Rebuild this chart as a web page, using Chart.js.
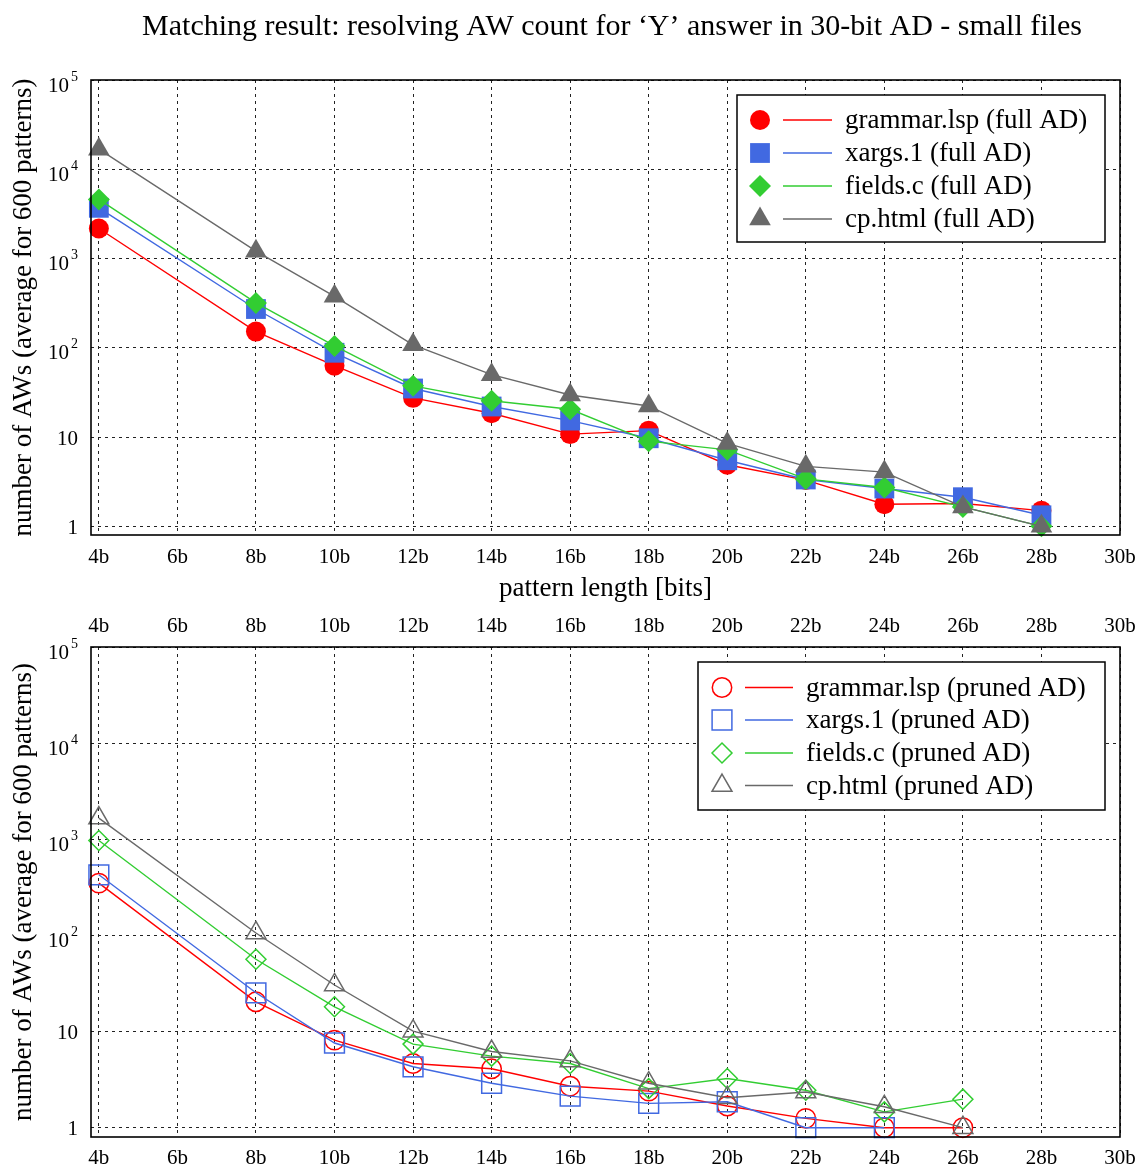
<!DOCTYPE html>
<html>
<head>
<meta charset="utf-8">
<title>Matching result: resolving AW count</title>
<script src="https://cdn.jsdelivr.net/npm/chart.js@4.4.1/dist/chart.umd.min.js"></script>
<style>
  html, body { margin: 0; padding: 0; background: #ffffff; }
  #page { position: relative; width: 1138px; height: 1169px; overflow: hidden; }
  #page canvas { position: absolute; left: 0; }
</style>
</head>
<body>
<div id="page">
  <canvas id="fullChart" width="1138" height="605" style="top:0;width:1138px;height:605px"></canvas>
  <canvas id="prunedChart" width="1138" height="564" style="top:605px;width:1138px;height:564px"></canvas>
</div>
<script>
const SERIF = '"Liberation Serif", "Times New Roman", serif';

// pattern lengths (bits) at which the measurements were taken
const bitLengths = [4, 8, 10, 12, 14, 16, 18, 20, 22, 24, 26, 28];
const xTickValues = [4, 6, 8, 10, 12, 14, 16, 18, 20, 22, 24, 26, 28, 30];
const yTickValues = [1, 10, 100, 1000, 10000, 100000];

const fileNames = ['grammar.lsp', 'xargs.1', 'fields.c', 'cp.html'];
const fileColors = ['#ff0000', '#4169e1', '#32cd32', '#696969'];

// average number of AWs, full AD
const fullGrammar = [2170, 152, 63, 27.5, 18.5, 10.8, 11.8, 4.9, 3.3, 1.77, 1.8, 1.5];
const fullXargs   = [3700, 272, 88, 35, 22, 15.3, 9.7, 5.5, 3.35, 2.65, 2.12, 1.33];
const fullFields  = [4600, 318, 105, 37.5, 25.5, 20.5, 9.0, 7.2, 3.4, 2.72, 1.65, 1.0];
const fullCp      = [16800, 1210, 377, 108, 50, 29.6, 22.3, 8.5, 4.7, 4.05, 1.65, 1.0];

// average number of AWs, pruned AD
const prunedGrammar = [350, 20.4, 8.15, 4.65, 4.1, 2.7, 2.4, 1.68, 1.25, 1.0, 1.0];
const prunedXargs   = [427, 25.3, 7.6, 4.3, 2.9, 2.13, 1.79, 1.86, 1.0, 1.0];
const prunedFields  = [970, 56.5, 18.1, 7.4, 5.55, 4.65, 2.55, 3.25, 2.45, 1.46, 1.98];
const prunedCp      = [1660, 106, 30.5, 10.1, 6.2, 4.95, 2.9, 2.05, 2.35, 1.65, 1.0];

const markerStyles = [
  { pointStyle: 'circle',   filled: 10,   hollow: 9.7 },
  { pointStyle: 'rect',     filled: 14,   hollow: 14 },
  { pointStyle: 'rectRot',  filled: 11,   hollow: 10 },
  { pointStyle: 'triangle', filled: 12.5, hollow: 11.5 }
];

const TICK_FONT = 21;
const TEXT_FONT = 27;

function buildDatasets(seriesList, suffix, filled) {
  return seriesList.map((values, i) => {
    const m = markerStyles[i];
    return {
      label: fileNames[i] + ' (' + suffix + ')',
      data: values.map((v, k) => ({ x: bitLengths[k], y: v })).filter(p => p.y != null),
      borderColor: fileColors[i],
      backgroundColor: fileColors[i],
      borderWidth: 1.4,
      pointStyle: m.pointStyle,
      pointRadius: filled ? m.filled : m.hollow,
      pointBackgroundColor: filled ? fileColors[i] : 'rgba(0,0,0,0)',
      pointBorderColor: fileColors[i],
      pointBorderWidth: filled ? 0 : 1.5,
      tension: 0,
      fill: false,
      clip: false,
      order: seriesList.length - i
    };
  });
}

// frame, y tick labels with exponents, axis titles and the boxed key
function makeDecor(cfg) {
  return {
    id: 'decor',
    afterDatasetsDraw(chart) {
      const ctx = chart.ctx;
      const area = chart.chartArea;
      ctx.save();

      ctx.strokeStyle = '#000';
      ctx.lineWidth = 1.6;
      ctx.strokeRect(area.left, area.top, area.right - area.left, area.bottom - area.top);

      const ys = chart.scales.y;
      ctx.fillStyle = '#000';
      ctx.textBaseline = 'middle';
      ctx.textAlign = 'right';
      yTickValues.forEach(v => {
        const y = ys.getPixelForValue(v);
        const exp = Math.round(Math.log10(v));
        if (exp < 2) {
          ctx.font = TICK_FONT + 'px ' + SERIF;
          ctx.fillText(String(v), cfg.labelRight, y + 2);
        } else {
          ctx.font = '14px ' + SERIF;
          const e = String(exp);
          const ew = ctx.measureText(e).width;
          ctx.fillText(e, cfg.labelRight, y - 3);
          ctx.font = TICK_FONT + 'px ' + SERIF;
          ctx.fillText('10', cfg.labelRight - ew - 2, y + 6);
        }
      });

      ctx.save();
      ctx.translate(24, (area.top + area.bottom) / 2);
      ctx.rotate(-Math.PI / 2);
      ctx.textAlign = 'center';
      ctx.font = TEXT_FONT + 'px ' + SERIF;
      ctx.fillText('number of AWs (average for 600 patterns)', 0, 0);
      ctx.restore();

      if (cfg.title) {
        ctx.textAlign = 'center';
        ctx.font = '30px ' + SERIF;
        ctx.fillText(cfg.title, 612, 27);
      }
      if (cfg.xTitle) {
        ctx.textAlign = 'center';
        ctx.font = TEXT_FONT + 'px ' + SERIF;
        ctx.fillText(cfg.xTitle, (area.left + area.right) / 2, cfg.xTitleY);
      }

      const L = cfg.legend;
      ctx.fillStyle = '#fff';
      ctx.fillRect(L.left, L.top, L.right - L.left, L.bottom - L.top);
      ctx.strokeStyle = '#000';
      ctx.lineWidth = 1.5;
      ctx.strokeRect(L.left, L.top, L.right - L.left, L.bottom - L.top);
      chart.data.datasets.forEach((ds, i) => {
        const y = L.rows[i];
        ctx.fillStyle = ds.pointBackgroundColor;
        ctx.strokeStyle = ds.pointBorderColor;
        ctx.lineWidth = ds.pointBorderWidth;
        Chart.helpers.drawPoint(ctx, {
          pointStyle: ds.pointStyle, radius: ds.pointRadius, rotation: 0, borderWidth: ds.pointBorderWidth
        }, L.markerX, y);
        ctx.strokeStyle = ds.borderColor;
        ctx.lineWidth = ds.borderWidth;
        ctx.beginPath();
        ctx.moveTo(L.lineX1, y);
        ctx.lineTo(L.lineX2, y);
        ctx.stroke();
        ctx.fillStyle = '#000';
        ctx.font = TEXT_FONT + 'px ' + SERIF;
        ctx.textAlign = 'left';
        ctx.textBaseline = 'middle';
        ctx.fillText(ds.label, L.textX, y + 1);
      });
      ctx.restore();
    }
  };
}

function xAxis(position, height, padding, showGrid) {
  return {
    type: 'linear', position: position, min: 3.8, max: 30,
    afterBuildTicks: s => { s.ticks = xTickValues.map(v => ({ value: v })); },
    afterFit: s => { s.height = height; s.paddingLeft = 0; s.paddingRight = 0; },
    grid: { display: showGrid, color: '#222', lineWidth: 1, drawTicks: false },
    border: { display: false, dash: [3, 4] },
    ticks: {
      color: '#000', font: { family: SERIF, size: TICK_FONT }, padding: padding,
      maxRotation: 0, autoSkip: false, callback: v => v + 'b'
    }
  };
}

function yAxis() {
  return {
    type: 'logarithmic', min: 0.8, max: 100000,
    afterBuildTicks: s => { s.ticks = yTickValues.map(v => ({ value: v })); },
    afterFit: s => { s.width = 91; s.paddingTop = 0; s.paddingBottom = 0; },
    grid: { color: '#222', lineWidth: 1, drawTicks: false },
    border: { display: false, dash: [3, 4] },
    ticks: { display: false }
  };
}

new Chart(document.getElementById('fullChart'), {
  type: 'line',
  data: { datasets: buildDatasets([fullGrammar, fullXargs, fullFields, fullCp], 'full AD', true) },
  options: {
    responsive: false, animation: false, events: [],
    layout: { padding: { top: 80, right: 18, left: 0, bottom: 0 } },
    plugins: { legend: { display: false }, title: { display: false }, tooltip: { enabled: false } },
    scales: { x: xAxis('bottom', 70, 10.2, true), y: yAxis() }
  },
  plugins: [makeDecor({
    labelRight: 78,
    title: 'Matching result: resolving AW count for \u2018Y\u2019 answer in 30-bit AD - small files',
    xTitle: 'pattern length [bits]', xTitleY: 589,
    legend: { left: 737, right: 1105, top: 95, bottom: 242, rows: [120, 153, 186, 219],
              markerX: 760, lineX1: 783, lineX2: 832, textX: 845 }
  })]
});

new Chart(document.getElementById('prunedChart'), {
  type: 'line',
  data: { datasets: buildDatasets([prunedGrammar, prunedXargs, prunedFields, prunedCp], 'pruned AD', false) },
  options: {
    responsive: false, animation: false, events: [],
    layout: { padding: { top: 0, right: 18, left: 0, bottom: 0 } },
    plugins: { legend: { display: false }, title: { display: false }, tooltip: { enabled: false } },
    scales: { x: xAxis('bottom', 32, 9.2, true), x2: xAxis('top', 42, 8.4, false), y: yAxis() }
  },
  plugins: [makeDecor({
    labelRight: 78,
    legend: { left: 698, right: 1105, top: 57, bottom: 205, rows: [82.5, 115, 148, 180.5],
              markerX: 722, lineX1: 745, lineX2: 793, textX: 806 }
  })]
});
</script>
</body>
</html>
